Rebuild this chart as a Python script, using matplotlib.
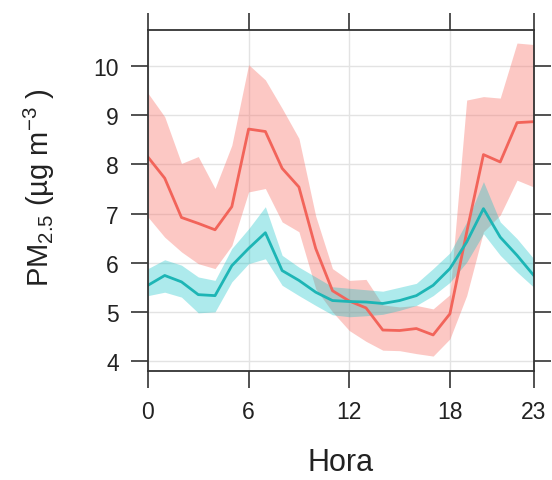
import matplotlib
matplotlib.use("Agg")
import matplotlib.pyplot as plt

hours = list(range(24))

red_mean = [8.15, 7.72, 6.92, 6.80, 6.67, 7.14, 8.72, 8.67, 7.92, 7.54, 6.29, 5.43,
            5.22, 5.08, 4.63, 4.62, 4.66, 4.53, 4.96, 6.62, 8.20, 8.05, 8.85, 8.87]
red_upper = [9.45, 8.97, 8.02, 8.16, 7.51, 8.39, 10.03, 9.72, 9.14, 8.53, 6.95, 5.88,
             5.64, 5.66, 5.14, 5.10, 5.13, 5.06, 5.35, 9.31, 9.38, 9.35, 10.47, 10.44]
red_lower = [6.93, 6.52, 6.22, 5.98, 5.88, 6.35, 7.44, 7.51, 6.83, 6.63, 5.47, 5.00,
             4.62, 4.40, 4.22, 4.21, 4.15, 4.10, 4.45, 5.33, 6.63, 6.97, 7.68, 7.54]

teal_mean = [5.54, 5.74, 5.61, 5.35, 5.33, 5.94, 6.29, 6.61, 5.84, 5.64, 5.40, 5.23,
             5.21, 5.20, 5.17, 5.23, 5.33, 5.54, 5.88, 6.42, 7.10, 6.52, 6.15, 5.74]
teal_upper = [5.88, 6.06, 5.95, 5.71, 5.64, 6.29, 6.69, 7.14, 6.15, 5.91, 5.71, 5.51,
              5.48, 5.45, 5.42, 5.50, 5.58, 5.88, 6.20, 6.83, 7.65, 6.83, 6.49, 6.08]
teal_lower = [5.33, 5.40, 5.30, 4.98, 5.00, 5.61, 5.98, 6.08, 5.54, 5.33, 5.13, 4.94,
              4.90, 4.92, 4.95, 5.03, 5.13, 5.33, 5.60, 6.01, 6.59, 6.15, 5.81, 5.50]

x_ticks = [0, 6, 12, 18, 23]
y_ticks = [4, 5, 6, 7, 8, 9, 10]

plt.rcParams["font.family"] = ["Liberation Sans", "DejaVu Sans"]
plt.rcParams["mathtext.fontset"] = "custom"
plt.rcParams["mathtext.rm"] = "Liberation Sans"
plt.rcParams["mathtext.default"] = "regular"

fig = plt.figure(figsize=(5.52, 4.81), dpi=100)
ax = fig.add_axes([0.268, 0.227, 0.699, 0.709])

red = "#F2645A"
teal = "#1DB5B5"

ax.fill_between(hours, red_lower, red_upper, color="#F8766D", alpha=0.4, lw=0)
ax.plot(hours, red_mean, color=red, lw=2)
ax.fill_between(hours, teal_lower, teal_upper, color="#00BFC4", alpha=0.32, lw=0)
ax.plot(hours, teal_mean, color=teal, lw=2)

ax.set_xlim(0, 23)
ax.set_ylim(3.8, 10.74)
ax.set_xticks(x_ticks)
ax.set_yticks(y_ticks)
ax.grid(True, color="#E3E3E3", lw=1)
ax.set_axisbelow(True)

ax.tick_params(which="both", direction="out", length=12, width=1.2, color="#333333",
               labelsize=16.5, pad=9, top=True, right=True,
               labeltop=False, labelright=False, labelcolor="#222222")
for s in ax.spines.values():
    s.set_color("#333333")
    s.set_linewidth(1.3)

ax.set_xlabel("Hora", fontsize=22, labelpad=17, color="#222222")
ax.set_ylabel("PM$_{2.5}$ (µg m$^{-3}$ )", fontsize=21, labelpad=26, color="#222222")
ax.yaxis.label.set_y(0.54)

fig.savefig("out.png", dpi=100)
